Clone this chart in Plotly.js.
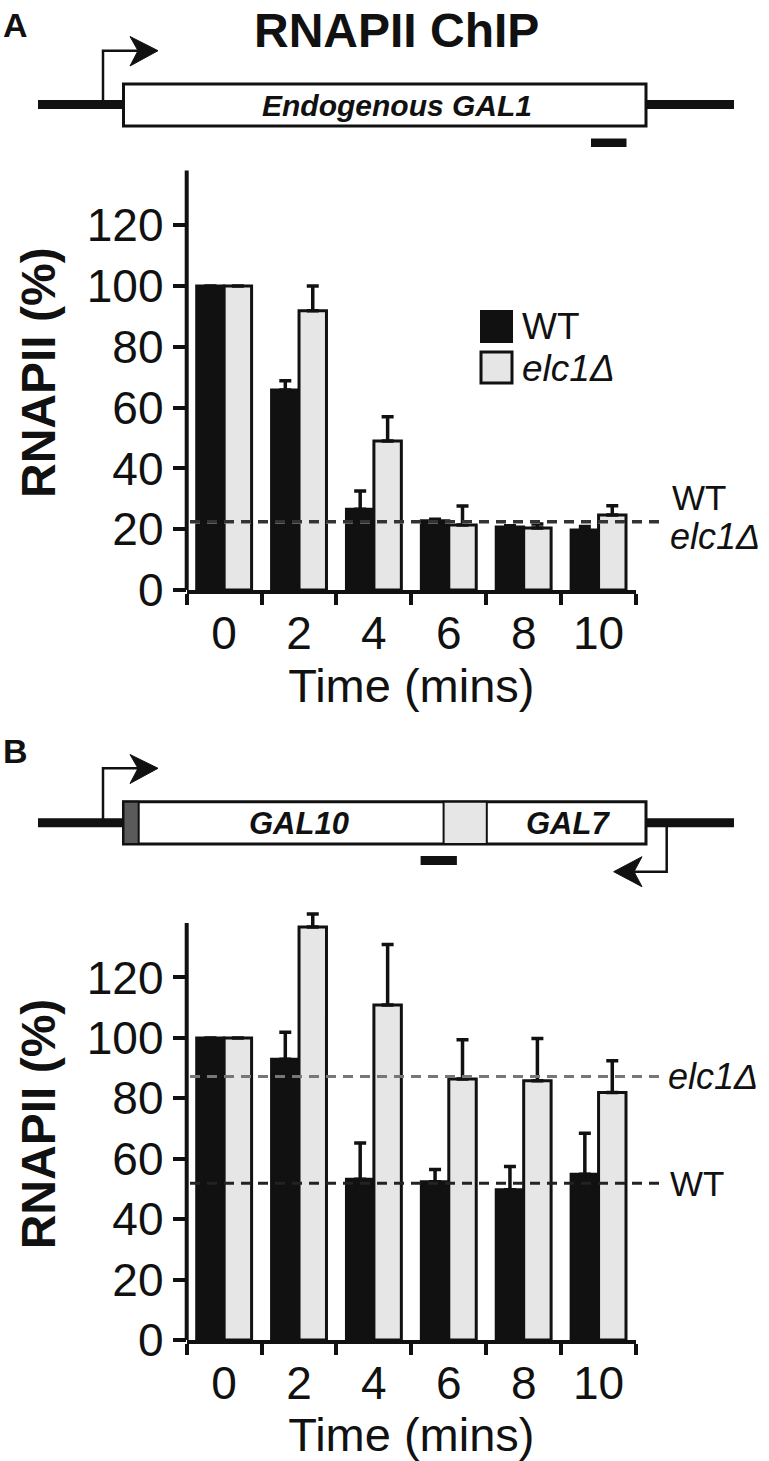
<!DOCTYPE html>
<html>
<head>
<meta charset="utf-8">
<script src="https://cdn.plot.ly/plotly-3.0.1.min.js"></script>
<style>html,body{margin:0;padding:0;background:#fff;}#chart{width:769px;height:1461px;}</style>
</head>
<body>
<div id="chart"></div>
<script>
// ---- data ----
const times = ['0', '2', '4', '6', '8', '10'];
const seriesNames = ['WT', '<i>elc1Δ</i>'];
// Panel A: endogenous GAL1
const wtA = [100, 65.8, 26.6, 22.8, 20.7, 19.7];
const wtAerr = [0, 3, 6, 0.5, 0.4, 1.2];
const elcA = [100, 91.9, 49, 21.4, 20.4, 24.7];
const elcAerr = [0, 8.1, 8, 6.2, 1.3, 3];
const baseA = {wt: 22.5, elc: 22.3};
// Panel B: GAL10-GAL7
const wtB = [100, 92.9, 53.2, 52.4, 49.7, 54.9];
const wtBerr = [0, 9, 12, 4, 7.7, 13.5];
const elcB = [100, 136.7, 110.9, 86.4, 85.8, 81.9];
const elcBerr = [0, 4.3, 20, 13, 14, 10.5];
const baseB = {wt: 51.9, elc: 87.2};
const yTicks = [0, 20, 40, 60, 80, 100, 120];

// ---- layout helpers ----
const W = 769, H = 1461;
const X = px => px / W;
const Y = py => 1 - py / H;
const INK = '#111111';
const LIGHT = '#e6e6e6';
const FONT = 'Liberation Sans, Arial, Helvetica, sans-serif';
const zeros = times.map(() => 0);

function barTrace(name, vals, errs, color, xa, ya) {
  return {
    type: 'bar', name: name, x: times, y: vals, xaxis: xa, yaxis: ya,
    marker: {color: color, line: {color: INK, width: 3}},
    error_y: {type: 'data', symmetric: false, array: errs, arrayminus: zeros,
              color: INK, thickness: 3.5, width: 6},
    hoverinfo: 'skip'
  };
}

const data = [
  barTrace(seriesNames[0], wtA, wtAerr, INK, 'x', 'y'),
  barTrace(seriesNames[1], elcA, elcAerr, LIGHT, 'x', 'y'),
  barTrace(seriesNames[0], wtB, wtBerr, INK, 'x2', 'y2'),
  barTrace(seriesNames[1], elcB, elcBerr, LIGHT, 'x2', 'y2')
];

const xDom = [X(186.7), X(636)];
function xAxis(anchor) {
  return {
    domain: xDom, anchor: anchor, type: 'category', categoryorder: 'array', categoryarray: times,
    tickson: 'boundaries', ticks: 'outside', ticklen: 11, tickwidth: 4, tickcolor: INK,
    showline: true, linewidth: 4, linecolor: INK, showgrid: false, zeroline: false,
    tickfont: {family: FONT, size: 46, color: INK},
    title: {text: 'Time (mins)', font: {family: FONT, size: 47, color: INK}, standoff: 0},
    fixedrange: true
  };
}
function yAxis(anchor, dom) {
  return {
    domain: dom, anchor: anchor, range: [0, 143], tickmode: 'array', tickvals: yTicks,
    ticks: 'outside', ticklen: 13, tickwidth: 4, tickcolor: INK,
    showline: false, showgrid: false, zeroline: false,
    tickfont: {family: FONT, size: 46, color: INK},
    title: {text: '<b>RNAPII (%)</b>', font: {family: FONT, size: 48, color: INK}, standoff: 15},
    fixedrange: true
  };
}

const shapes = [];
const annotations = [];
function line(x0, y0, x1, y1, w, color, dash) {
  shapes.push({type: 'line', xref: 'paper', yref: 'paper', x0: X(x0), y0: Y(y0), x1: X(x1), y1: Y(y1),
               line: {color: color || INK, width: w, dash: dash || 'solid'}, layer: 'above'});
}
function rect(x0, y0, x1, y1, fill, lw) {
  shapes.push({type: 'rect', xref: 'paper', yref: 'paper', x0: X(x0), y0: Y(y0), x1: X(x1), y1: Y(y1),
               fillcolor: fill, line: {color: INK, width: lw}, layer: 'above'});
}
function path(pts, fill, lw, closed) {
  let d = pts.map((p, i) => (i ? 'L' : 'M') + X(p[0]) + ',' + Y(p[1])).join(' ') + (closed ? ' Z' : '');
  shapes.push({type: 'path', xref: 'paper', yref: 'paper', path: d,
               fillcolor: fill || 'rgba(0,0,0,0)', line: {color: INK, width: lw}, layer: 'above'});
}
function text(t, x, y, size, opts) {
  opts = opts || {};
  annotations.push(Object.assign({xref: 'paper', yref: 'paper', x: X(x), y: Y(y), text: t,
    showarrow: false, xanchor: 'center', yanchor: 'middle',
    font: {family: FONT, size: size, color: INK}}, opts));
}

// y axis lines (stop at 138)
function yLine(ya) {
  shapes.push({type: 'line', xref: 'paper', yref: ya, x0: xDom[0], x1: xDom[0], y0: 0, y1: 138,
               line: {color: INK, width: 4}, layer: 'above'});
}
yLine('y'); yLine('y2');

// dashed reference lines
function dashed(ya, val, color) {
  shapes.push({type: 'line', xref: 'paper', yref: ya, x0: X(190), x1: X(664), y0: val, y1: val,
               line: {color: color, width: 3, dash: '10px,7px'}, layer: 'above'});
}
dashed('y', baseA.elc, '#777777');
dashed('y', baseA.wt, '#333333');
dashed('y2', baseB.elc, '#777777');
dashed('y2', baseB.wt, '#222222');

// dashed-line labels
annotations.push({xref: 'paper', yref: 'y', x: X(670), y: baseA.wt + 8, text: 'WT', showarrow: false,
  xanchor: 'left', yanchor: 'middle', font: {family: FONT, size: 35, color: INK}});
annotations.push({xref: 'paper', yref: 'y', x: X(668), y: baseA.wt - 5, text: '<i>elc1Δ</i>', showarrow: false,
  xanchor: 'left', yanchor: 'middle', font: {family: FONT, size: 36, color: INK}});
annotations.push({xref: 'paper', yref: 'y2', x: X(666), y: baseB.elc, text: '<i>elc1Δ</i>', showarrow: false,
  xanchor: 'left', yanchor: 'middle', font: {family: FONT, size: 36, color: INK}});
annotations.push({xref: 'paper', yref: 'y2', x: X(668), y: baseB.wt, text: 'WT', showarrow: false,
  xanchor: 'left', yanchor: 'middle', font: {family: FONT, size: 35, color: INK}});

// legend (panel A)
rect(481, 311, 512, 342, INK, 2);
rect(481, 352, 512, 383, LIGHT, 3);
text(seriesNames[0], 520, 327, 37, {xanchor: 'left'});
text(seriesNames[1], 520, 368, 37, {xanchor: 'left'});

// panel letters and title
text('<b>A</b>', 15, 25, 34);
text('<b>B</b>', 15, 751, 34);
text('<b>RNAPII ChIP</b>', 396, 31, 48);

// gene diagram A
line(38, 104.5, 734, 104.5, 9);
rect(123.5, 84, 646, 126, '#ffffff', 3);
path([[103, 104.5], [103, 50.7], [140, 50.7]], null, 2.5, false);
path([[130, 36.5], [158, 50.7], [130, 66], [138, 50.7]], INK, 1, true);
rect(591, 138.5, 626.5, 147, INK, 0);
text('<b><i>Endogenous GAL1</i></b>', 397, 105, 30);

// gene diagram B
line(38, 822.8, 734, 822.8, 9);
rect(123.5, 801.7, 646, 844, '#ffffff', 3);
rect(123.5, 801.7, 138.7, 844, '#5a5a5a', 2);
rect(443.6, 801.7, 486.8, 844, LIGHT, 2);
path([[103, 822.8], [103, 768.3], [140, 768.3]], null, 2.5, false);
path([[130, 754.5], [158, 768.3], [130, 783.5], [138, 768.3]], INK, 1, true);
path([[666.7, 827], [666.7, 871.7], [630, 871.7]], null, 2.5, false);
path([[642, 856.7], [613.7, 871.7], [642, 886.7], [634, 871.7]], INK, 1, true);
rect(420.6, 856, 456.9, 865, INK, 0);
text('<b><i>GAL10</i></b>', 299, 823.5, 31);
text('<b><i>GAL7</i></b>', 568, 823.5, 31);

const layout = {
  width: W, height: H, margin: {l: 0, r: 0, t: 0, b: 0},
  paper_bgcolor: '#ffffff', plot_bgcolor: 'rgba(0,0,0,0)',
  showlegend: false, barmode: 'group', bargap: 0.267, bargroupgap: 0,
  font: {family: FONT, color: INK},
  xaxis: xAxis('y'), yaxis: yAxis('x', [Y(590), Y(155.3)]),
  xaxis2: xAxis('y2'), yaxis2: yAxis('x2', [Y(1340), Y(908)]),
  shapes: shapes, annotations: annotations
};

Plotly.newPlot('chart', data, layout, {staticPlot: true, displayModeBar: false});
</script>
</body>
</html>
